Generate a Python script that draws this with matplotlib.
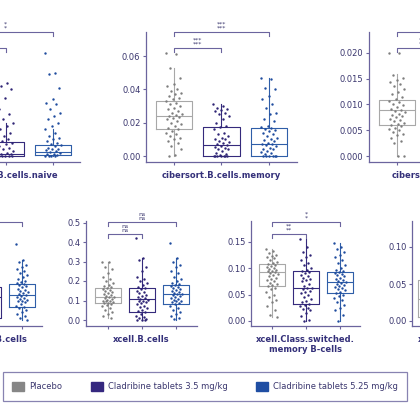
import matplotlib
matplotlib.use("Agg")
import matplotlib.pyplot as plt
import matplotlib.transforms as mtransforms
from matplotlib.patches import Patch
from matplotlib.ticker import FormatStrFormatter

# groups and colours
groups = ["Placebo", "Cladribine tablets 3.5 mg/kg", "Cladribine tablets 5.25 mg/kg"]
point_colors = ["#7d7d7d", "#2e2475", "#1f4c9e"]
box_colors = ["#a8a8a8", "#352a7c", "#2f5ea8"]
legend_colors = ["#868686", "#35287f", "#1f4ea3"]
axis_color = "#6b649e"
text_color = "#3a366e"
title_color = "#34307a"

# ---- cibersort.B.cells.naive ----
naive_title = "cibersort.B.cells.naive"
naive_q1 = [0.003, 0.0, 0.0006]
naive_med = [0.008, 0.0015, 0.0024]
naive_q3 = [0.015, 0.0084, 0.0066]
naive_lo = [0.0, 0.0, 0.0]
naive_hi = [0.030, 0.020, 0.016]
naive_placebo = [0.03, 0.024, 0.018, 0.015, 0.012, 0.01, 0.008, 0.006, 0.004, 0.002, 0.0]
naive_low = [0.052, 0.044, 0.042, 0.040, 0.035, 0.028, 0.025, 0.022, 0.020, 0.018,
             0.016, 0.014, 0.012, 0.011, 0.010, 0.009, 0.008, 0.007, 0.006, 0.005,
             0.004, 0.003, 0.002, 0.0015, 0.001, 0.0, 0.0, 0.0, 0.0, 0.0]
naive_high = [0.062, 0.050, 0.049, 0.041, 0.034, 0.032, 0.031, 0.028, 0.026, 0.024,
              0.022, 0.020, 0.018, 0.016, 0.014, 0.012, 0.011, 0.010, 0.009, 0.008,
              0.007, 0.0065, 0.006, 0.005, 0.0045, 0.004, 0.0035, 0.003, 0.0025, 0.002,
              0.0015, 0.001, 0.0005, 0.0, 0.0, 0.0, 0.0]
naive_sig = ["*\n*", "*\n*"]

# ---- cibersort.B.cells.memory ----
memory_title = "cibersort.B.cells.memory"
memory_q1 = [0.0162, 0.0, 0.0]
memory_med = [0.024, 0.0066, 0.0072]
memory_q3 = [0.033, 0.0174, 0.017]
memory_lo = [0.0, 0.0, 0.0]
memory_hi = [0.053, 0.031, 0.047]
memory_placebo = [0.062, 0.061, 0.053, 0.047, 0.043, 0.042, 0.040, 0.039, 0.038, 0.037,
                  0.036, 0.035, 0.034, 0.033, 0.032, 0.031, 0.030, 0.029, 0.028, 0.027,
                  0.026, 0.025, 0.0245, 0.024, 0.0235, 0.023, 0.022, 0.021, 0.020, 0.019,
                  0.018, 0.017, 0.016, 0.015, 0.014, 0.013, 0.012, 0.011, 0.010, 0.009,
                  0.008, 0.006, 0.004, 0.0005, 0.0003]
memory_low = [0.031, 0.030, 0.029, 0.028, 0.0275, 0.027, 0.026, 0.025, 0.024, 0.022,
              0.020, 0.018, 0.0175, 0.016, 0.014, 0.013, 0.012, 0.011, 0.0105, 0.010,
              0.009, 0.0085, 0.008, 0.007, 0.0066, 0.006, 0.0055, 0.005, 0.0045, 0.004,
              0.003, 0.002, 0.001, 0.0005, 0.0, 0.0, 0.0, 0.0, 0.0, 0.0, 0.0]
memory_high = [0.047, 0.046, 0.041, 0.040, 0.036, 0.034, 0.031, 0.029, 0.026, 0.025,
               0.022, 0.021, 0.018, 0.0175, 0.017, 0.016, 0.0155, 0.015, 0.014, 0.013,
               0.012, 0.011, 0.010, 0.0095, 0.009, 0.008, 0.0075, 0.007, 0.0065, 0.006,
               0.005, 0.0045, 0.004, 0.003, 0.0025, 0.002, 0.001, 0.0, 0.0, 0.0, 0.0,
               0.0, 0.0]
memory_sig = ["***\n***", "***\n***"]

# ---- cibersort.Plasma.cells ----
plasma_title = "cibersort.Plasma.cells"
plasma_q1 = [0.006, 0.002, 0.003]
plasma_med = [0.009, 0.005, 0.006]
plasma_q3 = [0.0109, 0.008, 0.009]
plasma_lo = [0.0, 0.0, 0.0]
plasma_hi = [0.0158, 0.014, 0.015]
plasma_placebo = [0.020, 0.0199, 0.0157, 0.0152, 0.0148, 0.0143, 0.0140, 0.0135, 0.013, 0.0125,
                  0.012, 0.0115, 0.011, 0.0107, 0.0104, 0.010, 0.0098, 0.0095, 0.0092, 0.009,
                  0.0088, 0.0085, 0.0082, 0.008, 0.0078, 0.0075, 0.0072, 0.007, 0.0067, 0.0064,
                  0.0062, 0.006, 0.0058, 0.0055, 0.0052, 0.005, 0.0047, 0.0043, 0.004, 0.0035,
                  0.003, 0.0025, 0.0, 0.0]
plasma_low = [0.014, 0.011, 0.009, 0.008, 0.006, 0.005, 0.004, 0.003, 0.002, 0.001, 0.0]
plasma_high = [0.015, 0.012, 0.010, 0.009, 0.007, 0.006, 0.005, 0.004, 0.003, 0.001, 0.0]
plasma_sig = ["*\n*", "*\n*"]

# ---- quantiseq.B.cells ----
qbc_title = "quantiseq.B.cells"
qbc_q1 = [0.08, 0.01, 0.067]
qbc_med = [0.13, 0.118, 0.128]
qbc_q3 = [0.18, 0.17, 0.185]
qbc_lo = [0.0, 0.0, 0.0]
qbc_hi = [0.30, 0.30, 0.31]
qbc_placebo = [0.30, 0.24, 0.19, 0.16, 0.14, 0.12, 0.10, 0.08, 0.05, 0.02]
qbc_low = [0.30, 0.22, 0.18, 0.15, 0.12, 0.10, 0.06, 0.03, 0.01, 0.0]
qbc_high = [0.39, 0.31, 0.30, 0.28, 0.27, 0.26, 0.25, 0.24, 0.23, 0.22,
            0.21, 0.20, 0.195, 0.19, 0.185, 0.18, 0.175, 0.17, 0.16, 0.155,
            0.15, 0.145, 0.14, 0.135, 0.13, 0.125, 0.12, 0.115, 0.11, 0.105,
            0.10, 0.095, 0.09, 0.08, 0.07, 0.065, 0.06, 0.05, 0.04, 0.03,
            0.02, 0.01, 0.0]
qbc_sig = ["ns\nns", "ns\nns"]

# ---- xcell.B.cells ----
xbc_title = "xcell.B.cells"
xbc_q1 = [0.087, 0.041, 0.082]
xbc_med = [0.118, 0.108, 0.133]
xbc_q3 = [0.164, 0.164, 0.18]
xbc_lo = [0.01, 0.0, 0.0]
xbc_hi = [0.30, 0.32, 0.32]
xbc_placebo = [0.30, 0.295, 0.27, 0.26, 0.24, 0.22, 0.21, 0.20, 0.19, 0.18,
               0.175, 0.17, 0.165, 0.16, 0.155, 0.15, 0.145, 0.14, 0.135, 0.13,
               0.125, 0.12, 0.118, 0.115, 0.11, 0.105, 0.10, 0.098, 0.095, 0.09,
               0.088, 0.085, 0.08, 0.075, 0.07, 0.06, 0.05, 0.04, 0.03, 0.02, 0.01]
xbc_low = [0.42, 0.32, 0.31, 0.27, 0.25, 0.22, 0.21, 0.20, 0.19, 0.18,
           0.17, 0.165, 0.16, 0.15, 0.145, 0.14, 0.13, 0.125, 0.12, 0.115,
           0.11, 0.105, 0.10, 0.095, 0.09, 0.085, 0.08, 0.07, 0.065, 0.06,
           0.05, 0.045, 0.04, 0.03, 0.02, 0.015, 0.01, 0.005, 0.0, 0.0, 0.0]
xbc_high = [0.395, 0.32, 0.30, 0.28, 0.27, 0.25, 0.24, 0.22, 0.21, 0.20,
            0.19, 0.185, 0.18, 0.175, 0.17, 0.165, 0.16, 0.155, 0.15, 0.145,
            0.14, 0.135, 0.133, 0.13, 0.125, 0.12, 0.115, 0.11, 0.105, 0.10,
            0.095, 0.09, 0.085, 0.08, 0.07, 0.06, 0.05, 0.04, 0.03, 0.02,
            0.01, 0.005]
xbc_sig = ["ns\nns", "ns\nns"]

# ---- xcell.Class.switched.memory B-cells ----
csm_title = "xcell.Class.switched.\nmemory B-cells"
csm_q1 = [0.066, 0.032, 0.053]
csm_med = [0.092, 0.062, 0.074]
csm_q3 = [0.1075, 0.094, 0.092]
csm_lo = [0.008, 0.0, 0.0]
csm_hi = [0.136, 0.155, 0.147]
csm_placebo = [0.136, 0.132, 0.128, 0.125, 0.122, 0.12, 0.118, 0.115, 0.112, 0.11,
               0.108, 0.106, 0.104, 0.102, 0.1, 0.099, 0.097, 0.095, 0.094, 0.092,
               0.09, 0.088, 0.086, 0.084, 0.082, 0.08, 0.077, 0.075, 0.072, 0.07,
               0.068, 0.066, 0.063, 0.06, 0.055, 0.05, 0.045, 0.04, 0.035, 0.028,
               0.02, 0.012, 0.008]
csm_low = [0.155, 0.14, 0.13, 0.125, 0.12, 0.115, 0.11, 0.105, 0.1, 0.097,
           0.094, 0.092, 0.09, 0.087, 0.085, 0.082, 0.08, 0.077, 0.075, 0.07,
           0.066, 0.063, 0.062, 0.06, 0.057, 0.055, 0.052, 0.05, 0.046, 0.042,
           0.038, 0.035, 0.032, 0.03, 0.028, 0.025, 0.022, 0.02, 0.015, 0.01,
           0.002, 0.0]
csm_high = [0.147, 0.14, 0.135, 0.13, 0.125, 0.12, 0.115, 0.11, 0.105, 0.1,
            0.097, 0.094, 0.092, 0.09, 0.088, 0.086, 0.084, 0.082, 0.08, 0.078,
            0.076, 0.074, 0.072, 0.07, 0.068, 0.066, 0.064, 0.062, 0.06, 0.058,
            0.055, 0.053, 0.05, 0.047, 0.043, 0.04, 0.035, 0.03, 0.025, 0.02,
            0.012, 0.0]
csm_sig = ["**\n**", "*\n*"]

# ---- xcell.Memory.B-cells ----
mbc_title = "xcell.Memory.B-cells"
mbc_q1 = [0.005, 0.002, 0.004]
mbc_med = [0.03, 0.02, 0.025]
mbc_q3 = [0.055, 0.04, 0.045]
mbc_lo = [0.0, 0.0, 0.0]
mbc_hi = [0.1, 0.08, 0.09]
mbc_placebo = [0.1, 0.07, 0.055, 0.04, 0.03, 0.02, 0.01, 0.005, 0.0]
mbc_low = [0.08, 0.05, 0.04, 0.03, 0.02, 0.01, 0.005, 0.0]
mbc_high = [0.09, 0.06, 0.045, 0.03, 0.025, 0.015, 0.005, 0.0]
mbc_sig = ["*\n*", "*\n*"]

W, H = 420, 420
fig = plt.figure(figsize=(W / 100, H / 100), dpi=100)
fig.patch.set_facecolor("white")


def make_axes(left, right, top, bottom, first_px, step_px, zero_px, px_per_unit):
    """axes placed in pixel units of the figure"""
    ax = fig.add_axes([left / W, 1 - bottom / H, (right - left) / W, (bottom - top) / H])
    ax.set_xlim(1 - (first_px - left) / step_px, 1 + (right - first_px) / step_px)
    ax.set_ylim((zero_px - bottom) / px_per_unit, (zero_px - top) / px_per_unit)
    ax.set_facecolor("none")
    for side in ("top", "right"):
        ax.spines[side].set_visible(False)
    for side in ("left", "bottom"):
        ax.spines[side].set_color(axis_color)
        ax.spines[side].set_linewidth(0.9)
    ax.tick_params(colors=axis_color, labelcolor=text_color, labelsize=6,
                   length=2.5, width=0.8, pad=1.5)
    ax.set_xticks([1, 2, 3])
    ax.set_xticklabels([])
    return ax


def draw_panel(ax, title, q1, med, q3, lo, hi, pts, sig, yticks, fmt, height_px):
    for i in range(3):
        st = dict(q1=q1[i], med=med[i], q3=q3[i], whislo=lo[i], whishi=hi[i])
        line = dict(color=box_colors[i], lw=0.8)
        ax.bxp([st], positions=[i + 1], widths=0.76, showfliers=False, showcaps=False,
               manage_ticks=False, boxprops=line, whiskerprops=line, medianprops=line)
        xs = [i + 1 + ((j * 0.618034) % 1 - 0.5) * 0.34 for j in range(len(pts[i]))]
        ax.scatter(xs, pts[i], s=3, color=point_colors[i], linewidths=0, zorder=3)
    ax.set_yticks(yticks)
    ax.yaxis.set_major_formatter(FormatStrFormatter(fmt))

    # significance brackets (Placebo vs 3.5, Placebo vs 5.25)
    tr = mtransforms.blended_transform_factory(ax.transData, ax.transAxes)
    drop = 4 / height_px
    levels = [1 - 16 / height_px, 1.0] if height_px > 120 else [1 - 13 / height_px, 1 - 1 / height_px]
    for (x2, yb, label) in zip([2, 3], levels, sig):
        ax.plot([1, 1, x2, x2], [yb - drop, yb, yb, yb - drop], transform=tr,
                color=axis_color, lw=0.8, clip_on=False)
        ax.text((1 + x2) / 2, yb + 1 / height_px, label, transform=tr, ha="center",
                va="bottom", fontsize=4.5, linespacing=0.85, color=text_color)

    ax.text(0.5, -9 / height_px, title, transform=ax.transAxes, ha="center", va="top",
            fontsize=6, fontweight="bold", color=title_color, linespacing=1.2)


# top row
ax1 = make_axes(-71, 80, 32, 162, -42, 47.5, 156, 1665)
draw_panel(ax1, naive_title, naive_q1, naive_med, naive_q3, naive_lo, naive_hi,
           [naive_placebo, naive_low, naive_high], naive_sig, [0, 0.02, 0.04, 0.06], "%.2f", 130)
ax2 = make_axes(146, 297, 32, 162, 174, 47.5, 156, 1665)
draw_panel(ax2, memory_title, memory_q1, memory_med, memory_q3, memory_lo, memory_hi,
           [memory_placebo, memory_low, memory_high], memory_sig, [0, 0.02, 0.04, 0.06], "%.2f", 130)
ax3 = make_axes(369, 520, 32, 162, 397, 47.5, 156, 5160)
draw_panel(ax3, plasma_title, plasma_q1, plasma_med, plasma_q3, plasma_lo, plasma_hi,
           [plasma_placebo, plasma_low, plasma_high], plasma_sig,
           [0, 0.005, 0.01, 0.015, 0.02], "%.3f", 130)

# bottom row
ax4 = make_axes(-68, 42, 221, 326, -46, 34, 320, 195)
draw_panel(ax4, qbc_title, qbc_q1, qbc_med, qbc_q3, qbc_lo, qbc_hi,
           [qbc_placebo, qbc_low, qbc_high], qbc_sig, [0, 0.1, 0.2, 0.3, 0.4, 0.5], "%.1f", 105)
ax5 = make_axes(86, 197, 221, 326, 108, 34, 320, 195)
draw_panel(ax5, xbc_title, xbc_q1, xbc_med, xbc_q3, xbc_lo, xbc_hi,
           [xbc_placebo, xbc_low, xbc_high], xbc_sig, [0, 0.1, 0.2, 0.3, 0.4, 0.5], "%.1f", 105)
ax6 = make_axes(251, 360, 221, 326, 272, 34, 321, 530)
draw_panel(ax6, csm_title, csm_q1, csm_med, csm_q3, csm_lo, csm_hi,
           [csm_placebo, csm_low, csm_high], csm_sig, [0, 0.05, 0.1, 0.15], "%.2f", 105)
ax7 = make_axes(412, 521, 221, 326, 431, 34, 321, 740)
draw_panel(ax7, mbc_title, mbc_q1, mbc_med, mbc_q3, mbc_lo, mbc_hi,
           [mbc_placebo, mbc_low, mbc_high], mbc_sig, [0, 0.05, 0.1], "%.2f", 105)

handles = [Patch(facecolor=c, edgecolor=c) for c in legend_colors]
leg = fig.legend(handles, groups, loc="center", ncol=3, mode="expand",
                 bbox_to_anchor=(3 / W, 1 - 402 / H, 404 / W, 31 / H),
                 fontsize=6, frameon=True, fancybox=False, edgecolor=axis_color,
                 handlelength=1.45, handleheight=1.45, handletextpad=0.6,
                 borderpad=1.1, borderaxespad=0, labelcolor=text_color)
leg.get_frame().set_linewidth(0.9)

fig.savefig("out.png", dpi=100)
